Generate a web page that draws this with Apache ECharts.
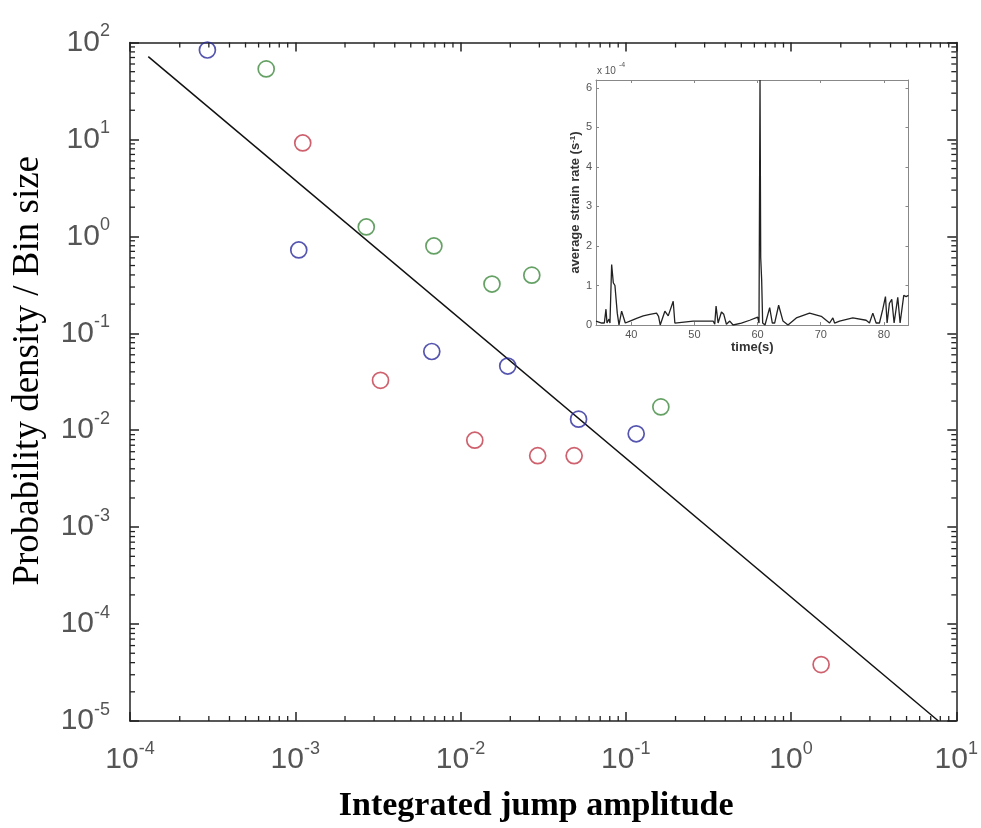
<!DOCTYPE html>
<html><head><meta charset="utf-8">
<script src="https://cdn.jsdelivr.net/npm/echarts@6/dist/echarts.min.js"></script>
<style>html,body{margin:0;padding:0;background:#fff}#c{width:981px;height:828px}</style>
</head><body><div id="c"></div>
<script>
// ---- main plot data ----
const blueX  = [2.94e-4, 1.05e-3, 6.7e-3, 0.0193, 0.0518, 0.1156];
const blueY  = [83.7, 0.724, 0.0649, 0.0459, 0.0130, 0.00918];
const greenX = [6.67e-4, 2.69e-3, 6.9e-3, 0.0155, 0.027, 0.163];
const greenY = [53.4, 1.25, 0.796, 0.322, 0.398, 0.0174];
const redX   = [1.11e-3, 3.28e-3, 0.0122, 0.0293, 0.0487, 1.52];
const redY   = [9.2, 0.0327, 0.00789, 0.00546, 0.00546, 3.82e-5];
const fitX   = [1.29e-4, 7.8];
const fitY   = [71.5, 1.0e-5];
// ---- inset data (strain rate in units of 1e-4 s^-1) ----
const insetTime = [34.4,35.3,35.72,35.98,36.14,36.46,36.61,36.88,37.14,37.4,37.77,38.04,38.46,38.72,39.04,39.78,40.83,41.88,42.94,43.99,44.31,44.57,45.31,45.84,46.63,46.89,47.15,49.79,52.95,53.21,53.42,53.74,54.27,54.64,55.06,55.59,56.11,57.43,58.75,60.01,60.22,60.38,60.49,60.64,60.8,61.17,61.91,62.33,62.7,63.33,64.02,64.81,66.13,68.23,70.08,71.4,71.66,71.92,72.19,72.45,72.98,75.08,77.19,77.72,78.25,78.77,79.3,79.83,80.25,80.51,80.88,81.25,81.62,82.2,82.57,83.15,83.52,83.89];
const insetRate = [0.1,0.05,0.05,0.4,0.05,0.15,0.05,1.53,1.07,1.0,0.3,0.0,0.35,0.3,0.05,0.1,0.17,0.23,0.27,0.3,0.22,0.0,0.35,0.23,0.6,0.05,0.1,0.1,0.1,0.02,0.48,0.05,0.33,0.27,0.02,0.1,0.0,0.05,0.12,0.2,0.05,6.2,1.7,1.15,0.05,0.0,0.44,0.05,0.05,0.5,0.1,0.0,0.18,0.3,0.22,0.05,0.0,0.18,0.05,0.0,0.1,0.18,0.12,0.05,0.3,0.05,0.05,0.4,0.72,0.05,0.55,0.65,0.05,0.7,0.05,0.75,0.72,0.75];
// ---- tick labels ----
const insetXTicks = [40, 50, 60, 70, 80];
const insetYTicks = [0, 1, 2, 3, 4, 5, 6];

const zip = (a, b) => a.map((v, i) => [v, b[i]]);
const supLabel = v => '{b|10}{e|' + Math.round(Math.log10(v)) + '}';
const FONT = 'Liberation Sans, Arial, sans-serif';
const SERIF = 'Liberation Serif, Times New Roman, serif';
const richMain = {
  b: {fontSize: 30, lineHeight: 40, fontFamily: FONT, color: '#555'},
  e: {fontSize: 18, lineHeight: 18, verticalAlign: 'top', fontFamily: FONT, color: '#555'}
};
const mainLine = {onZero: false, lineStyle: {color: '#222', width: 1.5}};
const mainTick = {inside: true, length: 9, lineStyle: {color: '#222', width: 1.5}};
const insLine = {onZero: false, lineStyle: {color: '#888', width: 1}};
const insTick = {inside: true, length: 3, lineStyle: {color: '#888', width: 1}};

const chart = echarts.init(document.getElementById('c'), null, {renderer: 'canvas'});
const option = {
  animation: false,
  backgroundColor: '#fff',
  grid: [
    {left: 130, top: 42.5, right: 20, bottom: 104, show: false},
    {left: 596, top: 80, right: 72.5, bottom: 503, show: true, backgroundColor: '#fff', borderWidth: 0, z: 5}
  ],
  xAxis: [
    {type: 'log', logBase: 10, gridIndex: 0, min: 1e-4, max: 10, splitNumber: 5, position: 'bottom',
     axisLine: mainLine, axisTick: mainTick, splitLine: {show: false},
     axisLabel: {formatter: supLabel, rich: richMain, margin: 19},
     name: 'Integrated jump amplitude', nameLocation: 'middle', nameGap: 68,
     nameTextStyle: {fontFamily: SERIF, fontWeight: 'bold', fontSize: 34, lineHeight: 34, color: '#000', padding: [0, 14, 0, 0]}},
    {type: 'log', logBase: 10, gridIndex: 0, min: 1e-4, max: 10, splitNumber: 5, position: 'top',
     axisLine: mainLine, axisTick: mainTick, splitLine: {show: false}, axisLabel: {show: false}},
    {type: 'value', gridIndex: 1, min: 34.4, max: 83.9, position: 'bottom', z: 6,
     axisLine: insLine, axisTick: Object.assign({customValues: insetXTicks}, insTick), splitLine: {show: false},
     axisLabel: {customValues: insetXTicks, fontSize: 11, color: '#555', fontFamily: FONT, margin: 4},
     name: 'time(s)', nameLocation: 'middle', nameGap: 16,
     nameTextStyle: {fontSize: 13, fontWeight: 'bold', color: '#333', fontFamily: FONT}},
    {type: 'value', gridIndex: 1, min: 34.4, max: 83.9, position: 'top', z: 6,
     axisLine: insLine, axisTick: Object.assign({customValues: insetXTicks}, insTick), splitLine: {show: false},
     axisLabel: {show: false}}
  ],
  yAxis: [
    {type: 'log', logBase: 10, gridIndex: 0, min: 1e-5, max: 100, splitNumber: 7, position: 'left',
     axisLine: mainLine, axisTick: mainTick, splitLine: {show: false},
     axisLabel: {formatter: supLabel, rich: richMain, margin: 20},
     name: 'Probability density / Bin size', nameLocation: 'middle', nameGap: 83, nameRotate: 90,
     nameTextStyle: {fontFamily: SERIF, fontSize: 37, lineHeight: 37, color: '#000', padding: [0, 0, 0, 22]}},
    {type: 'log', logBase: 10, gridIndex: 0, min: 1e-5, max: 100, splitNumber: 7, position: 'right',
     axisLine: mainLine, axisTick: mainTick, splitLine: {show: false}, axisLabel: {show: false}},
    {type: 'value', gridIndex: 1, min: 0, max: 6.2, position: 'left', z: 6,
     axisLine: insLine, axisTick: Object.assign({customValues: insetYTicks}, insTick), splitLine: {show: false},
     axisLabel: {customValues: insetYTicks, fontSize: 11, color: '#555', fontFamily: FONT, margin: 4},
     name: 'average strain rate (s{sup|-1})', nameLocation: 'middle', nameGap: 14, nameRotate: 90,
     nameTextStyle: {fontSize: 13, fontWeight: 'bold', color: '#333', fontFamily: FONT,
       rich: {sup: {fontSize: 8, fontWeight: 'bold', color: '#333', fontFamily: FONT, verticalAlign: 'top', lineHeight: 8}}}},
    {type: 'value', gridIndex: 1, min: 0, max: 6.2, position: 'right', z: 6,
     axisLine: insLine, axisTick: Object.assign({customValues: insetYTicks}, insTick), splitLine: {show: false},
     axisLabel: {show: false}}
  ],
  series: [
    {type: 'line', xAxisIndex: 0, yAxisIndex: 0, data: zip(fitX, fitY), showSymbol: false, symbol: 'none',
     lineStyle: {color: '#111', width: 1.5}, z: 3},
    {type: 'scatter', xAxisIndex: 0, yAxisIndex: 0, data: zip(blueX, blueY), symbol: 'circle', symbolSize: 16,
     itemStyle: {color: 'rgba(0,0,0,0)', borderColor: '#2a2a9c', borderWidth: 1.7}, z: 4},
    {type: 'scatter', xAxisIndex: 0, yAxisIndex: 0, data: zip(greenX, greenY), symbol: 'circle', symbolSize: 16,
     itemStyle: {color: 'rgba(0,0,0,0)', borderColor: '#3f8a3f', borderWidth: 1.7}, z: 4},
    {type: 'scatter', xAxisIndex: 0, yAxisIndex: 0, data: zip(redX, redY), symbol: 'circle', symbolSize: 16,
     itemStyle: {color: 'rgba(0,0,0,0)', borderColor: '#c23a48', borderWidth: 1.7}, z: 4},
    {type: 'line', xAxisIndex: 2, yAxisIndex: 2, data: zip(insetTime, insetRate), showSymbol: false, symbol: 'none',
     lineStyle: {color: '#222', width: 1.3}, z: 7}
  ]
};
chart.setOption(option);

// minor log ticks on all four sides of the main frame
const px = v => chart.convertToPixel({xAxisIndex: 0}, v);
const py = v => chart.convertToPixel({yAxisIndex: 0}, v);
const x0 = px(1e-4), x1 = px(10), y0 = py(1e-5), y1 = py(100);
const g = [];
const seg = (a, b, c, d) => g.push({type: 'line', silent: true, z: 10,
  shape: {x1: a, y1: b, x2: c, y2: d}, style: {stroke: '#222', lineWidth: 1.3}});
for (let e = -4; e < 1; e++) for (let k = 2; k <= 9; k++) {
  const x = px(k * Math.pow(10, e));
  seg(x, y0, x, y0 - 5); seg(x, y1, x, y1 + 5);
}
for (let e = -5; e < 2; e++) for (let k = 2; k <= 9; k++) {
  const y = py(k * Math.pow(10, e));
  seg(x0, y, x0 + 5, y); seg(x1, y, x1 - 5, y);
}
g.push({type: 'text', silent: true, z: 10, x: 597, y: 66,
  style: {text: 'x 10', fontSize: 10, fill: '#555', fontFamily: FONT}});
g.push({type: 'text', silent: true, z: 10, x: 619, y: 62,
  style: {text: '-4', fontSize: 7, fill: '#555', fontFamily: FONT}});
chart.setOption({graphic: g});
</script></body></html>
